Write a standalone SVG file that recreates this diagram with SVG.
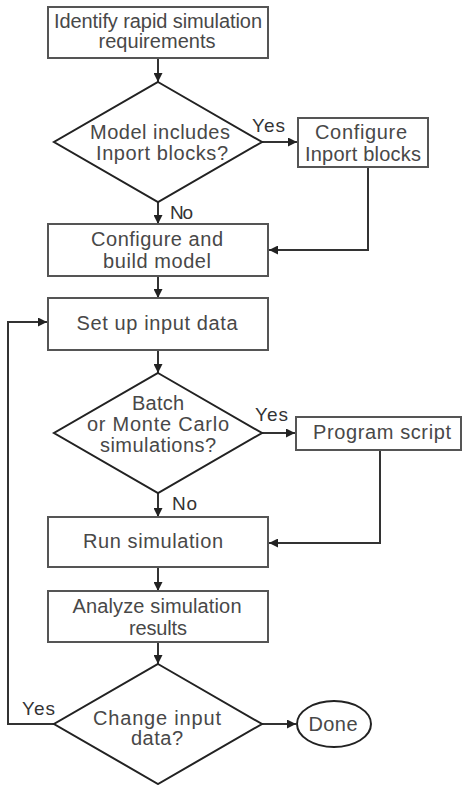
<svg xmlns="http://www.w3.org/2000/svg" width="462" height="785" viewBox="0 0 462 785">
<defs>
<marker id="ah" viewBox="0 0 10 10" refX="10" refY="5" markerWidth="9" markerHeight="9" markerUnits="userSpaceOnUse" orient="auto">
<path d="M0,0 L10,5 L0,10 z" fill="#222"/>
</marker>
<style>
.box{fill:#fff;stroke:#555;stroke-width:2}
.dia{fill:#fff;stroke:#222;stroke-width:2}
.t{font-family:"Liberation Sans",Arial,sans-serif;font-size:20px;fill:#484848;text-anchor:middle}
.lbl{font-family:"Liberation Sans",Arial,sans-serif;font-size:19px;fill:#333}
.c{fill:none;stroke:#333;stroke-width:2}
.ca{fill:none;stroke:#333;stroke-width:2;marker-end:url(#ah)}
</style>
</defs>
<rect width="462" height="785" fill="#fff"/>
<g id="connectors">
<line class="ca" x1="158" y1="58" x2="158" y2="82"/>
<line class="ca" x1="262" y1="142" x2="297" y2="142"/>
<polyline class="ca" points="368,168 368,250 269,250"/>
<line class="ca" x1="158" y1="202" x2="158" y2="224"/>
<line class="ca" x1="158" y1="276" x2="158" y2="298"/>
<line class="ca" x1="158" y1="350" x2="158" y2="373"/>
<line class="ca" x1="262" y1="433" x2="295" y2="433"/>
<polyline class="ca" points="380,450 380,543 269,543"/>
<line class="ca" x1="158" y1="493" x2="158" y2="517"/>
<line class="ca" x1="158" y1="567" x2="158" y2="591"/>
<line class="ca" x1="158" y1="642" x2="158" y2="664"/>
<polyline class="ca" points="54,724 8,724 8,322 47,322"/>
<line class="ca" x1="262" y1="724" x2="296" y2="724"/>
<text class="lbl" x="252" y="132" textLength="33">Yes</text>
<text class="lbl" x="170" y="219" textLength="23">No</text>
<text class="lbl" x="255" y="421" textLength="33">Yes</text>
<text class="lbl" x="172" y="510" textLength="25">No</text>
<text class="lbl" x="22" y="715" textLength="33">Yes</text>
</g>
<g id="n1">
<rect class="box" x="48" y="7" width="220" height="51"/>
<text class="t" x="158" y="28" textLength="208">Identify rapid simulation</text>
<text class="t" x="157" y="48" textLength="117">requirements</text>
</g>
<g id="n2">
<polygon class="dia" points="158,82 262,142 158,202 54,142"/>
<text class="t" x="160" y="139" textLength="140">Model includes</text>
<text class="t" x="162" y="160" textLength="132">Inport blocks?</text>
</g>
<g id="n3">
<rect class="box" x="298" y="118" width="130" height="49"/>
<text class="t" x="361" y="139" textLength="92">Configure</text>
<text class="t" x="363" y="161" textLength="116">Inport blocks</text>
</g>
<g id="n4">
<rect class="box" x="48" y="224" width="220" height="52"/>
<text class="t" x="157" y="246" textLength="132">Configure and</text>
<text class="t" x="157" y="268" textLength="108">build model</text>
</g>
<g id="n5">
<rect class="box" x="48" y="298" width="220" height="52"/>
<text class="t" x="157" y="330" textLength="161">Set up input data</text>
</g>
<g id="n6">
<polygon class="dia" points="158,373 262,433 158,493 54,433"/>
<text class="t" x="158" y="410" textLength="52">Batch</text>
<text class="t" x="158" y="431" textLength="142">or Monte Carlo</text>
<text class="t" x="158" y="452" textLength="116">simulations?</text>
</g>
<g id="n7">
<rect class="box" x="296" y="417" width="165" height="33"/>
<text class="t" x="382" y="439" textLength="138">Program script</text>
</g>
<g id="n8">
<rect class="box" x="48" y="517" width="220" height="50"/>
<text class="t" x="153" y="548" textLength="140">Run simulation</text>
</g>
<g id="n9">
<rect class="box" x="48" y="591" width="220" height="51"/>
<text class="t" x="157" y="613" textLength="169">Analyze simulation</text>
<text class="t" x="158" y="635" textLength="58">results</text>
</g>
<g id="n10">
<polygon class="dia" points="158,664 262,724 158,784 54,724"/>
<text class="t" x="157" y="725" textLength="128">Change input</text>
<text class="t" x="157" y="745" textLength="52">data?</text>
</g>
<g id="n11">
<ellipse class="dia" cx="334" cy="724" rx="37" ry="23"/>
<text class="t" x="333" y="731" textLength="49">Done</text>
</g>
</svg>
